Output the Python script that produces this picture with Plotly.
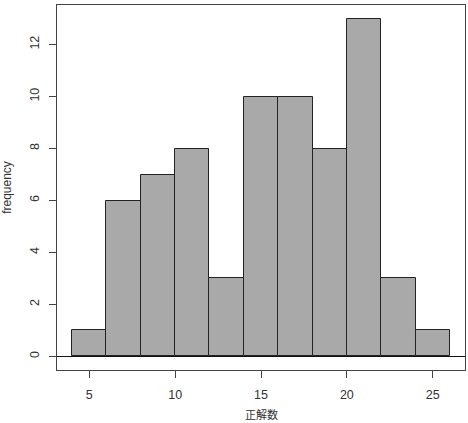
import plotly.graph_objects as go

bin_edges = [4, 6, 8, 10, 12, 14, 16, 18, 20, 22, 24, 26]
counts = [1, 6, 7, 8, 3, 10, 10, 8, 13, 3, 1]
x_ticks = [5, 10, 15, 20, 25]
y_ticks = [0, 2, 4, 6, 8, 10, 12]
x_title = "正解数"
y_title = "frequency"

centers = [(a + b) / 2 for a, b in zip(bin_edges[:-1], bin_edges[1:])]
widths = [b - a for a, b in zip(bin_edges[:-1], bin_edges[1:])]

fig = go.Figure(go.Bar(
    x=centers, y=counts, width=widths,
    marker=dict(color="#A9A9A9", line=dict(color="#222222", width=1)),
))

font_main = "Liberation Sans, Arial, sans-serif"
fig.update_layout(
    width=468, height=423,
    margin=dict(l=57, r=3, t=5, b=53),
    plot_bgcolor="white", paper_bgcolor="white",
    showlegend=False,
    font=dict(family=font_main, size=12, color="#333333"),
    bargap=0,
)
fig.add_annotation(
    text=x_title, xref="paper", yref="paper", x=0.5, y=-44 / 365,
    xanchor="center", yanchor="middle", showarrow=False,
    font=dict(family="Noto Sans CJK JP", size=11, color="#333333"),
)
fig.update_xaxes(
    range=[3.12, 26.88], tickvals=x_ticks, ticks="outside", ticklen=7,
    tickcolor="#444444", showgrid=False, zeroline=False,
    showline=True, linecolor="#444444", mirror=True, linewidth=1,
    ticklabelstandoff=6, automargin=False,
    tickfont=dict(size=12.5, color="#333333"),
)
fig.update_yaxes(
    range=[-0.52, 13.52], tickvals=y_ticks, ticks="outside", ticklen=7,
    tickcolor="#444444", showgrid=False, zeroline=True, zerolinecolor="#111111", zerolinewidth=1,
    showline=True, linecolor="#444444", mirror=True, linewidth=1,
    ticklabelstandoff=5, automargin=False,
    tickangle=-90, tickfont=dict(size=12.5, color="#333333"),
    title=dict(text=y_title, font=dict(size=12, color="#333333"), standoff=15),
)
fig.write_html("out.html")
